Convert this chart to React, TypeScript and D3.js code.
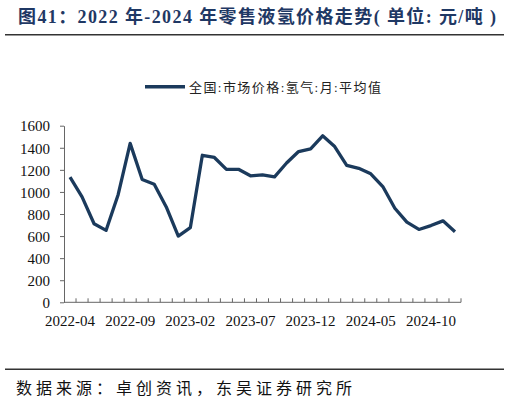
import React, { useEffect, useRef } from 'react';
import * as d3 from 'd3';

const months: string[] = [
    '2022-04', '2022-05', '2022-06', '2022-07', '2022-08', '2022-09', '2022-10', '2022-11', '2022-12',
    '2023-01', '2023-02', '2023-03', '2023-04', '2023-05', '2023-06', '2023-07', '2023-08', '2023-09',
    '2023-10', '2023-11', '2023-12', '2024-01', '2024-02', '2024-03', '2024-04', '2024-05', '2024-06',
    '2024-07', '2024-08', '2024-09', '2024-10', '2024-11', '2024-12',
];

const prices: number[] = [
    1135, 955, 712, 652, 975, 1440, 1112, 1070, 864,
    600, 676, 1332, 1312, 1204, 1205, 1146, 1155, 1137,
    1262, 1366, 1390, 1508, 1411, 1241, 1214, 1164, 1049,
    852, 727, 660, 695, 738, 640,
];

const yTicks: number[] = [0, 200, 400, 600, 800, 1000, 1200, 1400, 1600];
const xLabels: string[] = ['2022-04', '2022-09', '2023-02', '2023-07', '2023-12', '2024-05', '2024-10'];

const seriesName = '全国:市场价格:氢气:月:平均值';
const title = '图41：2022 年-2024 年零售液氢价格走势( 单位: 元/吨 )';
const source = '数据来源：卓创资讯，东吴证券研究所';

const App: React.FC = () => {
    const chartRef = useRef<SVGSVGElement>(null);

    useEffect(() => {
        const svg = d3.select(chartRef.current);
        svg.selectAll('*').remove();

        const serif = '"Liberation Serif", "Times New Roman", serif';
        const cjk = '"Liberation Serif", "Noto Sans CJK SC", serif';
        const navy = '#1b3a5c';
        const axisColor = '#666';

        const left = 64, right = 461, top = 125.7, bottom = 302.3;

        // title + rules
        svg.append('text')
            .attr('x', 18).attr('y', 23)
            .attr('font-family', cjk).attr('font-weight', 'bold')
            .attr('font-size', 18).attr('fill', '#1f3864')
            .attr('textLength', 478)
            .text(title);
        svg.append('line')
            .attr('x1', 5).attr('x2', 504).attr('y1', 34.7).attr('y2', 34.7)
            .attr('stroke', '#333').attr('stroke-width', 1.6);
        svg.append('line')
            .attr('x1', 5).attr('x2', 504).attr('y1', 369.3).attr('y2', 369.3)
            .attr('stroke', '#333').attr('stroke-width', 1.6);
        svg.append('text')
            .attr('x', 16).attr('y', 394)
            .attr('font-family', cjk).attr('font-size', 16).attr('fill', '#111')
            .attr('textLength', 336)
            .text(source);

        // legend
        svg.append('line')
            .attr('x1', 145).attr('x2', 185).attr('y1', 86.7).attr('y2', 86.7)
            .attr('stroke', navy).attr('stroke-width', 3.5);
        svg.append('text')
            .attr('x', 189).attr('y', 91.5)
            .attr('font-family', cjk).attr('font-size', 13).attr('fill', '#222')
            .attr('textLength', 192)
            .text(seriesName);

        const x = d3.scaleBand<string>().domain(months).range([left, right]);
        const y = d3.scaleLinear().domain([0, 1600]).range([bottom, top]);

        // y axis
        const yAxis = svg.append('g')
            .attr('transform', `translate(${left},0)`)
            .call(d3.axisLeft(y).tickValues(yTicks).tickFormat(d3.format('d')).tickSize(4).tickSizeOuter(0).tickPadding(10));
        yAxis.select('.domain').attr('stroke', axisColor);
        yAxis.selectAll('line').attr('stroke', axisColor);
        yAxis.selectAll('text')
            .attr('font-family', serif).attr('font-size', 15).attr('fill', '#111')
            .attr('dy', '0.35em');

        // x axis: ticks at band boundaries pointing up, labels at band centers
        const xAxis = svg.append('g')
            .attr('transform', `translate(0,${bottom})`);
        xAxis.append('line')
            .attr('x1', left).attr('x2', right).attr('y1', 0).attr('y2', 0)
            .attr('stroke', axisColor);
        xAxis.selectAll('line.tick')
            .data(months)
            .enter().append('line')
            .attr('class', 'tick')
            .attr('x1', d => (x(d) as number) + x.bandwidth())
            .attr('x2', d => (x(d) as number) + x.bandwidth())
            .attr('y1', 0).attr('y2', -4)
            .attr('stroke', axisColor);
        xAxis.selectAll('text')
            .data(xLabels)
            .enter().append('text')
            .attr('x', d => (x(d) as number) + x.bandwidth() / 2)
            .attr('y', 24)
            .attr('text-anchor', 'middle')
            .attr('font-family', serif).attr('font-size', 15).attr('fill', '#111')
            .text(d => d);

        // series line
        const line = d3.line<number>()
            .x((_, i) => (x(months[i]) as number) + x.bandwidth() / 2)
            .y(d => y(d));
        svg.append('path')
            .datum(prices)
            .attr('d', line)
            .attr('fill', 'none')
            .attr('stroke', navy)
            .attr('stroke-width', 3.3)
            .attr('stroke-linejoin', 'round');
    }, []);

    return (
        <svg ref={chartRef} width="509" height="403"
            style={{ position: 'absolute', left: 0, top: 0, background: '#fff' }}></svg>
    );
};

export default App;
